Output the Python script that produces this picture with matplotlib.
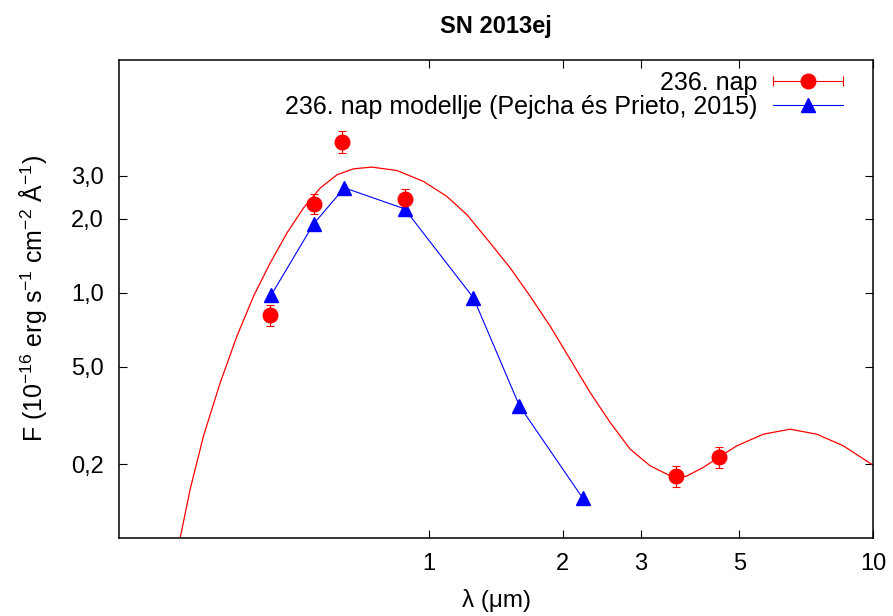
import matplotlib
matplotlib.use('Agg')
import matplotlib.pyplot as plt
from matplotlib.lines import Line2D
from matplotlib.legend_handler import HandlerLine2D, HandlerTuple

plt.rcParams['font.family'] = ['Liberation Sans', 'DejaVu Sans']
plt.rcParams['mathtext.fontset'] = 'custom'
plt.rcParams['mathtext.rm'] = 'Liberation Sans'
plt.rcParams['mathtext.it'] = 'Liberation Sans:italic'

# measured fluxes (day 236)
obs_lam = [0.437, 0.549, 0.636, 0.88, 3.60, 4.49]
obs_flux = [0.81, 2.31, 4.14, 2.42, 0.179, 0.214]
obs_err = [0.08, 0.22, 0.41, 0.24, 0.018, 0.021]

# model fluxes (Pejcha & Prieto 2015)
mod_lam = [0.44, 0.549, 0.644, 0.88, 1.258, 1.597, 2.22]
mod_flux = [0.975, 1.91, 2.68, 2.20, 0.954, 0.346, 0.145]

# fitted curve
fit_lam = [0.2749, 0.2894, 0.3101, 0.3382, 0.3688, 0.4020, 0.4384, 0.4781,
           0.5210, 0.5682, 0.6197, 0.6754, 0.7428, 0.8459, 0.9709, 1.0962,
           1.2159, 1.372, 1.522, 1.688, 1.873, 2.078, 2.305, 2.557, 2.836,
           3.146, 3.490, 3.792, 4.148, 4.484, 4.932, 5.662, 6.504, 7.469,
           8.574, 10.0]
fit_flux = [0.1008, 0.1584, 0.2610, 0.4303, 0.6660, 0.9687, 1.3244, 1.754,
            2.218, 2.675, 3.029, 3.204, 3.255, 3.153, 2.845, 2.472,
            2.083, 1.597, 1.264, 0.9687, 0.7312, 0.5354, 0.3919, 0.2959, 0.2304,
            0.1970, 0.1794, 0.1784, 0.1941, 0.2131, 0.2376, 0.2651, 0.2778, 0.2651,
            0.2376, 0.1983]

xticks = [1, 2, 3, 5, 10]
xtick_labels = ['1', '2', '3', '5', '10']
yticks = [3, 2, 1, 0.5, 0.2]
ytick_labels = ['3,0', '2,0', '1,0', '5,0', '0,2']

fig = plt.figure(figsize=(8.93, 6.16), dpi=100)
ax = fig.add_axes([119 / 893, 1 - 538 / 616, (873 - 119) / 893, (538 - 60) / 616])

ax.plot(fit_lam, fit_flux, color='red', lw=0.9)
ax.errorbar(obs_lam, obs_flux, yerr=obs_err, fmt='o', color='red', ms=10.5,
            elinewidth=0.8, capsize=3.2, capthick=0.8)
ax.plot(mod_lam, mod_flux, color='blue', lw=0.8, marker='^', ms=10)

ax.set_xscale('log')
ax.set_yscale('log')
ax.set_xlim(0.2, 10)
ax.set_ylim(0.1, 8.9)
ax.minorticks_off()
ax.set_xticks(xticks)
ax.set_xticklabels(xtick_labels)
ax.set_yticks(yticks)
ax.set_yticklabels(ytick_labels)
ax.tick_params(direction='in', length=5.8, width=0.8, top=True, right=True,
               labelsize=17, pad=11)
for s in ax.spines.values():
    s.set_linewidth(1.1)

ax.set_xlabel('λ (μm)', fontsize=17.5, va='center')
ax.xaxis.set_label_coords(0.5, (538 - 601) / 478)
ax.set_ylabel(r'F (10$^{-16}$ erg s$^{-1}$ cm$^{-2}$ Å$^{-1}$)', fontsize=18, va='center')
ax.yaxis.set_label_coords((33 - 119) / 754, 0.5)
fig.text(496 / 893, 1 - 27 / 616, 'SN 2013ej', ha='center', va='center',
         fontsize=17, fontweight='bold')

# gnuplot-like legend keys
caps = Line2D([], [], color='red', lw=0.8, marker='|', ms=7, mew=0.8)
dot = Line2D([], [], color='red', ls='none', marker='o', ms=10.5)
tri = Line2D([], [], color='blue', lw=0.8, marker='^', ms=10)
ax.legend([(caps, dot), tri],
          ['236. nap', '236. nap modellje (Pejcha és Prieto, 2015)'],
          handler_map={caps: HandlerLine2D(numpoints=2, marker_pad=0),
                       tuple: HandlerTuple(ndivide=1)},
          loc='upper right', bbox_to_anchor=(843 / 893, 1 - 71 / 616),
          bbox_transform=fig.transFigure, frameon=False, markerfirst=False,
          fontsize=18, handlelength=2.8, handletextpad=0.62,
          labelspacing=0.0, borderaxespad=0, borderpad=0)

fig.savefig('out.png', dpi=100)
